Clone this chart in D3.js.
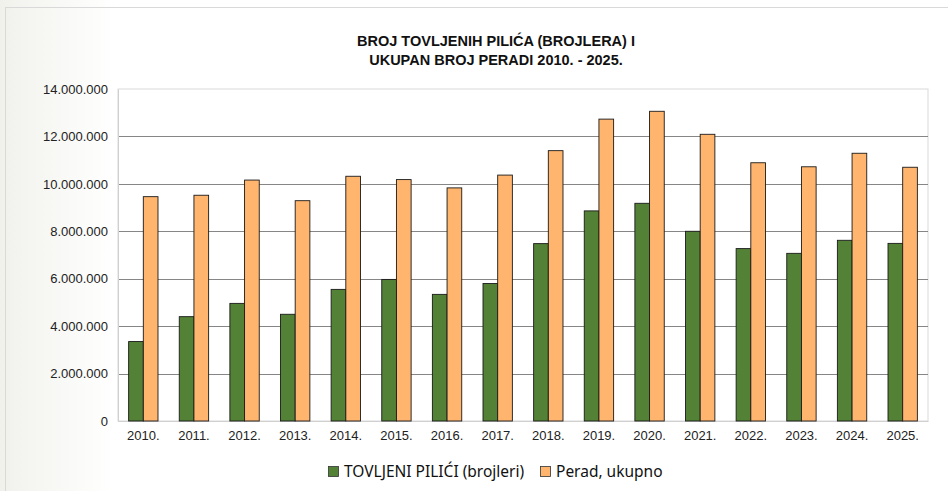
<!DOCTYPE html>
<html>
<head>
<meta charset="utf-8">
<script src="https://cdn.jsdelivr.net/npm/d3@7"></script>
<style>
  body { margin: 0; background: #fff; }
  svg { display: block; }
</style>
</head>
<body>
<div id="chart"></div>
<script>
const years = ["2010.", "2011.", "2012.", "2013.", "2014.", "2015.", "2016.", "2017.",
  "2018.", "2019.", "2020.", "2021.", "2022.", "2023.", "2024.", "2025."];
const seriesNames = ["TOVLJENI PILIĆI (brojleri)", "Perad, ukupno"];
const brojleri = [3350000, 4400000, 4960000, 4500000, 5550000, 5970000, 5340000, 5800000,
  7480000, 8860000, 9180000, 8000000, 7270000, 7070000, 7620000, 7490000];
const peradUkupno = [9460000, 9520000, 10160000, 9290000, 10320000, 10180000, 9830000, 10370000,
  11400000, 12730000, 13060000, 12090000, 10890000, 10720000, 11290000, 10700000];
const yTicks = [0, 2000000, 4000000, 6000000, 8000000, 10000000, 12000000, 14000000];
const titleLines = ["BROJ TOVLJENIH PILIĆA (BROJLERA) I", "UKUPAN BROJ PERADI 2010. - 2025."];
const colors = ["#538135", "#ffb56d"];

function draw() {
  const W = 948, H = 491;
  const margin = { top: 89, right: 20, bottom: 70, left: 118 };
  const width = 810;
  const height = 332;

  const svg = d3.select("#chart").append("svg")
    .attr("width", W).attr("height", H);

  // soft background + frame
  const grad = svg.append("defs").append("linearGradient")
    .attr("id", "bg").attr("x1", "0").attr("x2", "1").attr("y1", "0").attr("y2", "0");
  grad.append("stop").attr("offset", "0").attr("stop-color", "#f1f1ec");
  grad.append("stop").attr("offset", "0.12").attr("stop-color", "#ffffff");
  svg.append("rect").attr("width", W).attr("height", H).attr("fill", "url(#bg)");
  svg.append("rect")
    .attr("x", 5.5).attr("y", 7.5).attr("width", 980).attr("height", 520)
    .attr("fill", "none").attr("stroke", "#d9d9d9");

  // title
  const title = svg.append("text")
    .attr("text-anchor", "middle")
    .attr("font-family", "Liberation Sans, Arial, sans-serif")
    .attr("font-weight", "bold").attr("font-size", 14.5).attr("fill", "#111");
  titleLines.forEach((t, i) => {
    title.append("tspan").attr("x", 496).attr("y", 46 + i * 19).text(t);
  });

  const g = svg.append("g").attr("transform", `translate(${margin.left},${margin.top})`);
  g.append("rect").attr("width", width).attr("height", height)
    .attr("fill", "#fff").attr("stroke", "#d9d9d9");

  const x0 = d3.scaleBand(years, [0, width]).paddingInner(0.42).paddingOuter(0.21);
  const x1 = d3.scaleBand([0, 1], [0, x0.bandwidth()]);
  const y = d3.scaleLinear([0, 14000000], [height, 0]);

  const locale = d3.formatLocale({ decimal: ",", thousands: ".", grouping: [3], currency: ["", ""] });
  const fmt = locale.format(",d");

  // gridlines
  g.append("g").selectAll("line")
    .data(yTicks.filter((d) => d > 0 && d < 14000000))
    .join("line")
    .attr("x1", 0).attr("x2", width)
    .attr("y1", (d) => Math.round(y(d)) + 0.5).attr("y2", (d) => Math.round(y(d)) + 0.5)
    .attr("stroke", "#868686").attr("stroke-width", 1.2);

  const yAxis = g.append("g")
    .call(d3.axisLeft(y).tickValues(yTicks).tickFormat(fmt).tickSize(0).tickPadding(10));
  yAxis.select(".domain").attr("stroke", "#d0d0d0");
  yAxis.selectAll("text").attr("font-family", "Liberation Sans, Arial, sans-serif")
    .attr("font-size", 13).attr("fill", "#222");

  const xAxis = g.append("g").attr("transform", `translate(0,${height})`)
    .call(d3.axisBottom(x0).tickSize(0).tickPadding(10));
  xAxis.select(".domain").attr("stroke", "#d0d0d0");
  xAxis.selectAll("text").attr("font-family", "Liberation Sans, Arial, sans-serif")
    .attr("font-size", 13).attr("fill", "#222");

  const rows = years.map((yr, i) => ({ year: yr, values: [brojleri[i], peradUkupno[i]] }));
  g.append("g").selectAll("g")
    .data(rows)
    .join("g")
    .attr("transform", (d) => `translate(${x0(d.year)},0)`)
    .selectAll("rect")
    .data((d) => d.values.map((v, k) => ({ k, v })))
    .join("rect")
    .attr("x", (d) => x1(d.k))
    .attr("y", (d) => y(d.v))
    .attr("width", x1.bandwidth())
    .attr("height", (d) => height - y(d.v))
    .attr("fill", (d) => colors[d.k])
    .attr("stroke", "#1a1a1a").attr("stroke-width", 0.9);

  // legend
  const legend = svg.append("g").attr("transform", "translate(328,477)");
  const pos = [0, 212];
  seriesNames.forEach((name, i) => {
    const item = legend.append("g").attr("transform", `translate(${pos[i]},0)`);
    item.append("rect").attr("x", 0.5).attr("y", -10.5).attr("width", 10).attr("height", 10)
      .attr("fill", colors[i]).attr("stroke", "#333").attr("stroke-width", 0.8);
    item.append("text").attr("x", 16).attr("y", 0)
      .attr("font-family", "Noto Sans, sans-serif").attr("font-size", 15.5)
      .attr("fill", "#111").text(name);
  });
}

window.addEventListener("load", draw);
</script>
</body>
</html>
